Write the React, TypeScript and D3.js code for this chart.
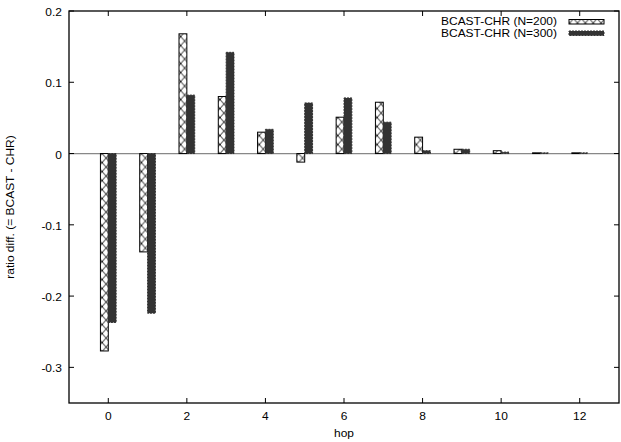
import React, { useRef, useEffect } from "react";
import * as d3 from "d3";

const hops = [0, 1, 2, 3, 4, 5, 6, 7, 8, 9, 10, 11, 12];
const n200 = [-0.277, -0.138, 0.168, 0.08, 0.03, -0.012, 0.051, 0.072, 0.023, 0.006, 0.004, 0.001, 0.001];
const n300 = [-0.237, -0.224, 0.082, 0.142, 0.034, 0.071, 0.078, 0.044, 0.004, 0.006, 0.002, 0.001, 0.001];
const xTicks = [0, 2, 4, 6, 8, 10, 12];
const yTicks = [0.2, 0.1, 0, -0.1, -0.2, -0.3];
const seriesNames = ["BCAST-CHR (N=200)", "BCAST-CHR (N=300)"];

const App = () => {
  const svgRef = useRef(null);

  useEffect(() => {
    const svg = d3.select(svgRef.current);
    svg.selectAll("*").remove();

    const width = 621;
    const height = 442;
    const margin = { top: 11, right: 2, bottom: 39, left: 69 };
    const font = "'Liberation Sans', Arial, sans-serif";
    const fs = 10.5;
    const sx = 1.14;

    // gnuplot text looks a bit wide, so stretch it horizontally
    const addText = (g, tx, ty, str, anchor, rot = 0) =>
      g
        .append("text")
        .attr("transform", `translate(${tx},${ty}) rotate(${rot}) scale(${sx},1)`)
        .attr("text-anchor", anchor)
        .attr("font-family", font)
        .attr("font-size", fs)
        .attr("fill", "#000")
        .text(str);

    const x = d3.scaleLinear().domain([-1, 13]).range([margin.left, width - margin.right]);
    const y = d3.scaleLinear().domain([-0.35, 0.2]).range([height - margin.bottom, margin.top]);
    const bw = x(0.2) - x(0);

    const defs = svg.append("defs");
    const pat = defs
      .append("pattern")
      .attr("id", "xhatch")
      .attr("patternUnits", "userSpaceOnUse")
      .attr("width", bw)
      .attr("height", 9)
      .attr("x", 0)
      .attr("y", y(0));
    pat.append("rect").attr("width", bw).attr("height", 9).attr("fill", "#fff");
    pat
      .append("path")
      .attr("d", `M0,0L${bw},9M${bw},0L0,9`)
      .attr("stroke", "#000")
      .attr("stroke-width", 0.9)
      .attr("fill", "none");

    // zero line
    svg
      .append("line")
      .attr("x1", x(-1))
      .attr("x2", x(13))
      .attr("y1", y(0))
      .attr("y2", y(0))
      .attr("stroke", "#888")
      .attr("stroke-width", 1.2);

    const rows = hops.map((h, i) => ({ h, a: n200[i], b: n300[i] }));

    svg
      .append("g")
      .selectAll("rect")
      .data(rows)
      .join("rect")
      .attr("x", (d) => x(d.h) - bw)
      .attr("y", (d) => y(Math.max(0, d.a)))
      .attr("width", bw)
      .attr("height", (d) => Math.abs(y(d.a) - y(0)))
      .attr("fill", "url(#xhatch)")
      .attr("stroke", "#000")
      .attr("stroke-width", 1);

    svg
      .append("g")
      .selectAll("rect")
      .data(rows)
      .join("rect")
      .attr("x", (d) => x(d.h))
      .attr("y", (d) => y(Math.max(0, d.b)))
      .attr("width", bw)
      .attr("height", (d) => Math.abs(y(d.b) - y(0)))
      .attr("fill", "#333")
      .attr("stroke", "#333")
      .attr("stroke-dasharray", "2,1")
      .attr("stroke-width", 1);

    // border
    svg
      .append("rect")
      .attr("x", x(-1))
      .attr("y", y(0.2))
      .attr("width", x(13) - x(-1))
      .attr("height", y(-0.35) - y(0.2))
      .attr("fill", "none")
      .attr("stroke", "#000")
      .attr("stroke-width", 1.3);

    const tl = 5;
    const axes = svg.append("g").attr("stroke", "#000").attr("stroke-width", 1);
    xTicks.forEach((t) => {
      axes.append("line").attr("x1", x(t)).attr("x2", x(t)).attr("y1", y(-0.35)).attr("y2", y(-0.35) - tl);
      axes.append("line").attr("x1", x(t)).attr("x2", x(t)).attr("y1", y(0.2)).attr("y2", y(0.2) + tl);
    });
    yTicks.forEach((t) => {
      axes.append("line").attr("x1", x(-1)).attr("x2", x(-1) + tl).attr("y1", y(t)).attr("y2", y(t));
      axes.append("line").attr("x1", x(13)).attr("x2", x(13) - tl).attr("y1", y(t)).attr("y2", y(t));
    });

    const labels = svg.append("g");
    xTicks.forEach((t) => {
      addText(labels, x(t), y(-0.35) + 17, String(t), "middle");
    });
    yTicks.forEach((t) => {
      const s = t === 0 ? "0" : d3.format(".1f")(t).replace("\u2212", "-");
      addText(labels, x(-1) - 7, y(t) + 5, s, "end");
    });

    addText(labels, x(6), height - 5, "hop", "middle");
    addText(labels, 13.5, (y(0.2) + y(-0.35)) / 2, "ratio diff. (= BCAST - CHR)", "middle", -90);

    // legend
    const lg = svg.append("g");
    seriesNames.forEach((name, i) => {
      const ly = 21.5 + i * 11.5;
      addText(lg, 557, ly + 3.8, name, "end");
      lg.append("rect")
        .attr("x", 569)
        .attr("y", ly - 2)
        .attr("width", 35)
        .attr("height", 4.5)
        .attr("fill", i === 0 ? "url(#xhatch)" : "#333")
        .attr("stroke", i === 0 ? "#000" : "#333")
        .attr("stroke-dasharray", i === 0 ? null : "2,1");
    });
  }, []);

  return (
    <svg
      ref={svgRef}
      width={621}
      height={442}
      style={{ position: "absolute", left: 0, top: 0, background: "#fff" }}
    ></svg>
  );
};

export default App;
